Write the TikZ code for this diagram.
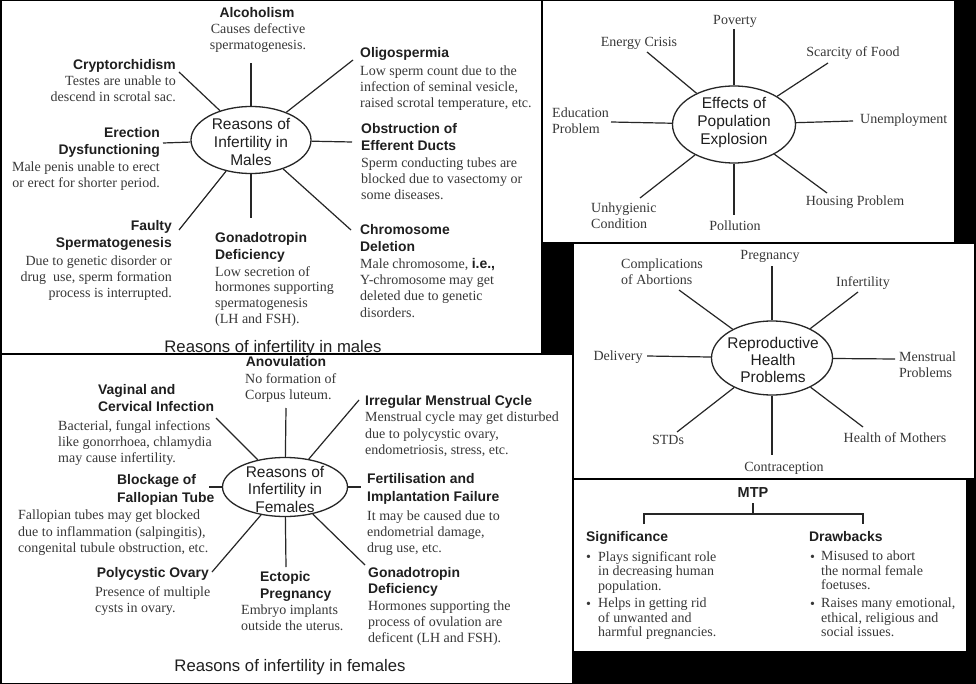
\documentclass[tikz,border=0pt]{standalone}
\usepackage{fontspec}
\setmainfont{Liberation Serif}
\setsansfont{Liberation Sans}
\usetikzlibrary{shapes.geometric}
\definecolor{bodyc}{gray}{0.22}
\definecolor{headc}{gray}{0.12}
\tikzset{
  boxf/.style={fill=white, draw=black, line width=1.5pt},
  ell/.style={draw=black!85, line width=1.3pt, ellipse, inner sep=0pt},
  spoke/.style={draw=black!85, line width=1.2pt},
  hd/.style={inner sep=0pt, text=headc, font=\fontsize{13.9}{#1}\selectfont\sffamily\bfseries},
  hd/.default=17,
  bd/.style={inner sep=0pt, text=bodyc, font=\fontsize{14}{#1}\selectfont\rmfamily},
  bd/.default=16,
  ctr/.style={inner sep=0pt, align=center, text=headc, font=\fontsize{15.5}{#1}\selectfont\sffamily},
  ctr/.default=18,
  capt/.style={inner sep=0pt, text=headc, font=\fontsize{16.7}{20}\selectfont\sffamily},
}
\begin{document}
\begin{tikzpicture}[x=1pt,y=-1pt]
\useasboundingbox (0,0) rectangle (976,684);
\fill[black] (0,0) rectangle (976,684);
\path[boxf] (0.75,0.75) rectangle (542,354);
\path[boxf] (542,0.75) rectangle (955,243);
\path[boxf] (573,243) rectangle (975,479);
\path[boxf] (573,479) rectangle (967,652);
\path[boxf] (0.75,354) rectangle (573,683.25);

%% ---------------- Males ----------------
\node[ell, minimum width=120pt, minimum height=67pt] (mE) at (251,140) {};
\node[ctr] (mEt) at (251,142) {Reasons of\\Infertility in\\Males};
\coordinate (mA) at (251,63);
\coordinate (mO) at (353,60);
\coordinate (mC) at (179,72);
\coordinate (mEr) at (163,143);
\coordinate (mOb) at (352,142);
\coordinate (mF) at (179,230);
\coordinate (mG) at (251,218);
\coordinate (mCh) at (351,230);
\foreach \c in {mA,mO,mC,mEr,mOb,mF,mG,mCh} \draw[spoke] (mE) -- (\c);

\node[hd, anchor=base] (mAh) at (257,18) {Alcoholism};
\node[bd, anchor=north, align=center] (mAb) at (258,23) {Causes defective\\spermatogenesis.};
\node[hd, anchor=base east] (mCh1) at (176,70) {Cryptorchidism};
\node[bd, anchor=north east, align=right] (mCb) at (176,76) {Testes are unable to\\descend in scrotal sac.};
\node[hd, anchor=base west] (mOh) at (360,58) {Oligospermia};
\node[bd, anchor=north west, align=left] (mOb1) at (360,66) {Low sperm count due to the\\infection of seminal vesicle,\\raised scrotal temperature, etc.};
\node[hd, anchor=north east, align=right] (mErh) at (160,127) {Erection\\Dysfunctioning};
\node[bd, anchor=north east, align=right] (mErb) at (160,162) {Male penis unable to erect\\or erect for shorter period.};
\node[hd, anchor=north west, align=left] (mObh) at (361,123) {Obstruction of\\Efferent Ducts};
\node[bd=15.7, anchor=north west, align=left] (mObb) at (361,158) {Sperm conducting tubes are\\blocked due to vasectomy or\\some diseases.};
\node[hd, anchor=north east, align=right] (mFh) at (172,220) {Faulty\\Spermatogenesis};
\node[bd, anchor=north east, align=right] (mFb) at (172,256) {Due to genetic disorder or\\drug\ \ use, sperm formation\\process is interrupted.};
\node[hd, anchor=north west, align=left] (mGh) at (215,232) {Gonadotropin\\Deficiency};
\node[bd=15.7, anchor=north west, align=left] (mGb) at (215,266) {Low secretion of\\hormones supporting\\spermatogenesis\\(LH and FSH).};
\node[hd, anchor=north west, align=left] (mChh) at (360,224) {Chromosome\\Deletion};
\node[bd=16.3, anchor=north west, align=left] (mChb) at (360,258) {Male chromosome, {\sffamily\bfseries\color{headc}i.e.,}\\Y-chromosome may get\\deleted due to genetic\\disorders.};
\node[capt, anchor=base] (mCap) at (273,352) {Reasons of infertility in males};

%% ---------------- Population ----------------
\node[ell, minimum width=123pt, minimum height=77pt] (pE) at (734,124.5) {};
\node[ctr] (pEt) at (734,123) {Effects of\\Population\\Explosion};
\coordinate (pPov) at (734,29);
\coordinate (pEn) at (647,52);
\coordinate (pSc) at (828,63);
\coordinate (pEd) at (611,122);
\coordinate (pUn) at (853,121);
\coordinate (pUh) at (640,198);
\coordinate (pPol) at (734,215);
\coordinate (pHo) at (827,193);
\foreach \c in {pPov,pEn,pSc,pEd,pUn,pUh,pPol,pHo} \draw[spoke] (pE) -- (\c);
\node[bd, anchor=base] (pPovl) at (735,25) {Poverty};
\node[bd, anchor=base] (pEnl) at (639,47) {Energy Crisis};
\node[bd, anchor=base] (pScl) at (853,57) {Scarcity of Food};
\node[bd=15.5, anchor=north west, align=left] (pEdl) at (552,108) {Education\\Problem};
\node[bd, anchor=base west] (pUnl) at (860,124) {Unemployment};
\node[bd=15.5, anchor=north west, align=left] (pUhl) at (591,203) {Unhygienic\\Condition};
\node[bd, anchor=base] (pPoll) at (735,231) {Pollution};
\node[bd, anchor=base] (pHol) at (855,206) {Housing Problem};

%% ---------------- Reproductive health ----------------
\node[ell, minimum width=121pt, minimum height=74pt] (rE) at (772,358) {};
\node[ctr=17] (rEt) at (773,360) {Reproductive\\Health\\Problems};
\coordinate (rPr) at (772,266);
\coordinate (rCo) at (679,290);
\coordinate (rIn) at (858,292);
\coordinate (rDe) at (647,356);
\coordinate (rMe) at (895,359);
\coordinate (rST) at (677,432);
\coordinate (rCn) at (772,455);
\coordinate (rHM) at (863,427);
\foreach \c in {rPr,rCo,rIn,rDe,rMe,rST,rCn,rHM} \draw[spoke] (rE) -- (\c);
\node[bd, anchor=base] (rPrl) at (770,260) {Pregnancy};
\node[bd=15.5, anchor=north west, align=left] (rCol) at (621,259) {Complications\\of Abortions};
\node[bd, anchor=base] (rInl) at (863,287) {Infertility};
\node[bd, anchor=base] (rDel) at (618,360) {Delivery};
\node[bd=16, anchor=north west, align=left] (rMel) at (899,352) {Menstrual\\Problems};
\node[bd, anchor=base] (rSTl) at (668,444) {STDs};
\node[bd, anchor=base] (rCnl) at (784,471) {Contraception};
\node[bd, anchor=base] (rHMl) at (895,442) {Health of Mothers};

%% ---------------- MTP ----------------
\node[hd, anchor=base, font=\fontsize{14.5}{17}\selectfont\sffamily\bfseries] (mtp) at (753,497) {MTP};
\coordinate (t0) at (753,503);
\coordinate (tj) at (753,514);
\coordinate (tl) at (644,514);
\coordinate (tr) at (863,514);
\coordinate (tlb) at (644,524);
\coordinate (trb) at (863,524);
\draw[spoke] (t0) -- (tj);
\draw[spoke] (tlb) -- (tl) -- (tr) -- (trb);
\node[hd, anchor=base west] (sig) at (586,541) {Significance};
\node[bd, anchor=base west] (sb1) at (586,561) {\textbullet};
\node[bd=14.5, anchor=north west, align=left] (st1) at (598,551) {Plays significant role\\in decreasing human\\population.};
\node[bd, anchor=base west] (sb2) at (586,608) {\textbullet};
\node[bd=14.5, anchor=north west, align=left] (st2) at (598,598) {Helps in getting rid\\of unwanted and\\harmful pregnancies.};
\node[hd, anchor=base west] (drw) at (809,541) {Drawbacks};
\node[bd, anchor=base west] (db1) at (810,561) {\textbullet};
\node[bd=14.5, anchor=north west, align=left] (dt1) at (821,551) {Misused to abort\\the normal female\\foetuses.};
\node[bd, anchor=base west] (db2) at (810,608) {\textbullet};
\node[bd=14.5, anchor=north west, align=left] (dt2) at (821,598) {Raises many emotional,\\ethical, religious and\\social issues.};

%% ---------------- Females ----------------
\node[ell, minimum width=125pt, minimum height=59pt] (fE) at (285,487) {};
\node[ctr=17.5] (fEt) at (285,489) {Reasons of\\Infertility in\\Females};
\coordinate (fAn) at (286,408);
\coordinate (fVa) at (216,418);
\coordinate (fIr) at (359,400);
\coordinate (fBl) at (209,487);
\coordinate (fFe) at (361,487);
\coordinate (fPo) at (212,572);
\coordinate (fEc) at (286,567);
\coordinate (fGo) at (365,565);
\foreach \c in {fAn,fVa,fIr,fBl,fFe,fPo,fEc,fGo} \draw[spoke] (fE) -- (\c);
\node[hd, anchor=base] (fAnh) at (286,366) {Anovulation};
\node[bd, anchor=north west, align=left] (fAnb) at (245,373) {No formation of\\Corpus luteum.};
\node[hd, anchor=north west, align=left] (fVah) at (98,384) {Vaginal and\\Cervical Infection};
\node[bd, anchor=north west, align=left] (fVab) at (58,420) {Bacterial, fungal infections\\like gonorrhoea, chlamydia\\may cause infertility.};
\node[hd, anchor=base west] (fIrh) at (365,405) {Irregular Menstrual Cycle};
\node[bd=16.5, anchor=north west, align=left] (fIrb) at (365,412) {Menstrual cycle may get disturbed\\due to polycystic ovary,\\endometriosis, stress, etc.};
\node[hd=18, anchor=north west, align=left] (fBlh) at (117,474) {Blockage of\\Fallopian Tube};
\node[bd=16.5, anchor=north west, align=left] (fBlb) at (18,510) {Fallopian tubes may get blocked\\due to inflammation (salpingitis),\\congenital tubule obstruction, etc.};
\node[hd=18, anchor=north west, align=left] (fFeh) at (367,473) {Fertilisation and\\Implantation Failure};
\node[bd=16, anchor=north west, align=left] (fFeb) at (367,511) {It may be caused due to\\endometrial damage,\\drug use, etc.};
\node[hd, anchor=base east] (fPoh) at (209,577) {Polycystic Ovary};
\node[bd, anchor=north west, align=left] (fPob) at (95,586) {Presence of multiple\\cysts in ovary.};
\node[hd, anchor=north west, align=left] (fEch) at (260,571) {Ectopic\\Pregnancy};
\node[bd, anchor=north west, align=left] (fEcb) at (241,605) {Embryo implants\\outside the uterus.};
\node[hd=16.5, anchor=north west, align=left] (fGoh) at (368,567) {Gonadotropin\\Deficiency};
\node[bd=15.7, anchor=north west, align=left] (fGob) at (368,601) {Hormones supporting the\\process of ovulation are\\deficent (LH and FSH).};
\node[capt, anchor=base] (fCap) at (290,671) {Reasons of infertility in females};
\end{tikzpicture}
\end{document}
